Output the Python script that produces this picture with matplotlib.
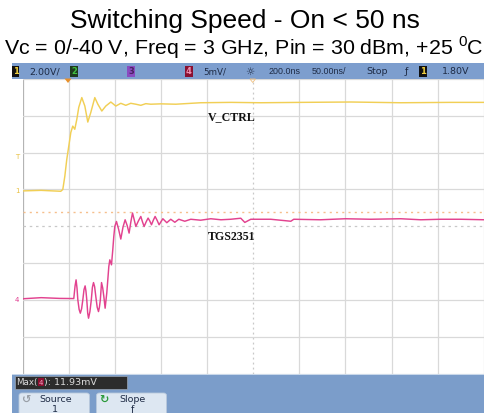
import matplotlib
matplotlib.use('Agg')
import matplotlib.pyplot as plt
from matplotlib.patches import Rectangle, FancyBboxPatch, Polygon

plt.rcParams['mathtext.fontset'] = 'custom'
plt.rcParams['mathtext.rm'] = 'Liberation Sans'

W, H = 485, 414

# Scope settings
t_grid = [-50, 0, 50, 100, 150, 200, 250, 300, 350, 400, 450]   # ns, 50 ns/div
ch1_scale, ch1_offset = 2.0, 1.0     # V/div, ground position in divisions
ch4_scale, ch4_offset = 5.0, -2.0    # mV/div

# Channel 1 (V_CTRL) in ns / V
ch1_t = [-50, -30, -8.7, -6.5, -4.3, -2.2, 0, 2.2, 4.3, 6.5, 8.7, 10.8, 14.1, 17.4,
         20.6, 23.9, 28.2, 31.5, 35.8, 40.1, 45.6, 51.0, 56.4, 61.8, 67.2, 72.7,
         78.1, 83.5, 88.9, 99.8, 116, 143, 176, 208, 252, 306, 360, 414, 451]
ch1_v = [-0.08, -0.05, -0.1, 0.0, 0.72, 1.63, 2.36, 3.10, 3.44, 3.27, 3.81, 4.46, 4.99, 4.53,
         3.66, 4.19, 4.99, 4.63, 4.26, 4.53, 4.75, 4.53, 4.68, 4.57, 4.68, 4.63,
         4.57, 4.66, 4.63, 4.65, 4.63, 4.71, 4.73, 4.71, 4.73, 4.75, 4.71, 4.73, 4.73]

# Channel 4 (TGS2351 detected RF) in ns / mV
ch4_t = [-50, -30, -10, 5.4, 6.8, 7.9, 8.9, 9.8, 11.2, 12.5, 13.9, 15.2, 16.5, 17.7, 18.6,
         19.5, 20.5, 21.4, 22.9, 24.4, 25.6, 26.8, 28.0, 29.3, 30.8, 32.2, 33.2, 34.2, 35.5,
         36.8, 38.0, 39.4, 41.2, 42.3, 43.4, 44.5, 46.3, 47.7, 48.8, 49.9,
         51.7, 54.0, 56.4, 58.8, 61.1, 63.3, 65.4, 67.3, 69.1, 70.9, 72.7, 75.4, 78.1, 79.9,
         81.7, 83.9, 86.0, 87.9, 89.7, 91.6, 93.6, 95.8, 97.9,
         102, 106.3, 110.6, 115, 119.3, 125.8, 132.3, 143, 154, 165, 175.7, 186.5,
         190.9, 197.4, 219, 240.8, 244, 273, 300, 327.6, 360, 381.8, 403.5, 425, 451]
ch4_mv = [0.15, 0.3, 0.2, 0.18, 1.9, 2.72, 1.6, 0.0, -1.3, -1.81, -1.2, 0.0, 1.4, 1.90, 1.2,
          0.0, -1.8, -2.49, -1.6, 0.0, 1.7, 2.35, 1.8, 0.45,
          -1.0, -1.59, -1.0, 0.0, 2.35, 1.6, 0.45, -1.13, 0.95, 2.72, 4.53, 5.44, 4.76, 6.80,
          8.61, 9.97,
          10.65, 9.6, 8.26, 9.9, 10.88, 10.1, 9.07, 10.6, 11.80, 10.9, 9.97, 10.7, 11.33, 10.6,
          9.97, 10.6, 11.11, 10.7, 10.20, 10.8, 11.33, 10.8, 10.20,
          11.02, 10.48, 10.95, 10.54, 10.95, 10.68, 10.95, 10.82, 11.02, 10.88, 10.95, 11.09,
          10.52, 10.95, 10.95, 10.68, 10.95, 10.88, 11.02, 10.95, 11.02, 10.88, 10.95, 10.95, 10.88]
ch4_max = 11.93


def fx(x):
    return x / W


def fy(y):
    return 1 - y / H


fig = plt.figure(figsize=(W / 100, H / 100), dpi=100)

# Titles
fig.text(fx(245), fy(21), 'Switching Speed - On < 50 ns', ha='center', va='center',
         fontsize=19, family='Liberation Sans')
fig.text(fx(244), fy(48), r'Vc = 0/-40 V, Freq = 3 GHz, Pin = 30 dBm, +25 $^{\rm 0}$C',
         ha='center', va='center', fontsize=15.4, family='Liberation Sans')

# Scope frame: top bar and bottom panel
blue = '#7d9ece'
fig.add_artist(Rectangle((fx(12), fy(79.5)), fx(473), 15.5 / H, fc=blue, ec='none',
                         transform=fig.transFigure))
fig.add_artist(Rectangle((fx(12), 0), fx(473), 39.5 / H, fc='#7b9dca', ec='none',
                         transform=fig.transFigure))
fig.add_artist(Rectangle((fx(12), fy(375.5)), fx(473), 1 / H, fc='#c9d8ea', ec='none',
                         transform=fig.transFigure))

# Grid area
ax = fig.add_axes([fx(22.7), fy(374.5), fx(461), 294.5 / H])
ax.set_xlim(t_grid[0], t_grid[-1])
ax.set_ylim(-4, 4)
ax.axis('off')
grid_c = '#d9d9d9'
for t in t_grid:
    if t == 200:
        ax.axvline(t, color='#c8c8c8', lw=0.9, ls=(0, (1.5, 2.5)))
    else:
        ax.axvline(t, color='#b4b4b4' if t == t_grid[0] else grid_c, lw=0.9)
for d in range(-4, 5):
    if d == 0:
        ax.axhline(d, color='#c8c8c8', lw=0.9, ls=(0, (2, 3)))
    else:
        ax.axhline(d, color=grid_c, lw=0.9)

# Max cursor
ax.axhline(ch4_max / ch4_scale + ch4_offset, color='#f6bf8c', lw=1.0, ls=(0, (1.5, 3)))

# Traces
ax.plot(ch1_t, [v / ch1_scale + ch1_offset for v in ch1_v], color='#f1cf55', lw=1.05,
        solid_joinstyle='round')
ax.plot(ch4_t, [v / ch4_scale + ch4_offset for v in ch4_mv], color='#e2428f', lw=1.05,
        solid_joinstyle='round')

# Trace labels
fig.text(fx(208), fy(117), 'V_CTRL', fontsize=8.6, family='Liberation Serif',
         weight='bold', va='center', color='#111111')
fig.text(fx(208), fy(237), 'TGS2351', fontsize=8.6, family='Liberation Serif',
         weight='bold', va='center', color='#111111')

# Trigger and delay markers
fig.add_artist(Polygon([(fx(64.5), fy(79.5)), (fx(71.5), fy(79.5)), (fx(68), fy(84))],
                       closed=True, fc='#e8902a', ec='none', transform=fig.transFigure))
fig.add_artist(Polygon([(fx(250), fy(80)), (fx(255.5), fy(80)), (fx(252.7), fy(83.5))],
                       closed=True, fc='none', ec='#f0c080', lw=0.6, transform=fig.transFigure))

# Left markers
fig.text(fx(17), fy(157), 'T', fontsize=5, color='#e8c040', ha='center', va='center')
fig.text(fx(17), fy(191), '1', fontsize=5, color='#e8c040', ha='center', va='center')
fig.text(fx(17), fy(300), '4', fontsize=5, color='#e03d90', ha='center', va='center')

# Top bar text
bar_y = fy(72)
tc = '#1e2b45'
fs = 6.8


def chbox(x, s, fg, bg):
    fig.text(fx(x), bar_y, s, fontsize=6, color=fg, ha='center', va='center',
             family='DejaVu Sans', weight='bold',
             bbox=dict(boxstyle='square,pad=0.12', fc=bg, ec='none'))


chbox(15.5, '1', '#f0d040', '#111111')
fig.text(fx(29), bar_y, '2.00V/', fontsize=fs, color=tc, va='center')
chbox(74, '2', '#40c040', '#1d3a1d')
chbox(131, '3', '#4a2060', '#8a4cc0')
chbox(188.7, '4', '#f090b0', '#8a1030')
fig.text(fx(203), bar_y, '5mV/', fontsize=fs - 0.5, color=tc, va='center')
fig.text(fx(250), bar_y, '\u263c', fontsize=7.5, color=tc, va='center', ha='center')
fig.text(fx(269), bar_y, '200.0ns', fontsize=6.4, color=tc, va='center',
         family='Liberation Sans')
fig.text(fx(311.5), bar_y, '50.00ns/', fontsize=6.4, color=tc, va='center',
         family='Liberation Sans')
fig.text(fx(366.5), bar_y, 'Stop', fontsize=fs, color=tc, va='center')
fig.text(fx(406.5), bar_y, '\u0192', fontsize=fs, color=tc, va='center', ha='center')
chbox(423, '1', '#f0d040', '#111111')
fig.text(fx(441.5), bar_y, '1.80V', fontsize=fs, color=tc, va='center')

# Measurement readout
fig.add_artist(Rectangle((fx(15), fy(389.5)), fx(112), 12.5 / H, fc='#2c2c2c', ec='#9aa6b4',
                         lw=0.5, transform=fig.transFigure))
fig.text(fx(16.5), fy(383), 'Max(', fontsize=6.3, color='#dcdcdc', va='center')
fig.text(fx(40.8), fy(383), '4', fontsize=5, color='#f0a0c0', va='center', ha='center',
         bbox=dict(boxstyle='square,pad=0.08', fc='#8a1030', ec='none'))
fig.text(fx(44), fy(383), f'): {ch4_max:.2f}mV', fontsize=6.8, color='#dcdcdc', va='center')

# Soft-key buttons
for x0, x1, top, bottom, icon, icolor in [(19, 89.5, 'Source', '1', '\u21ba', '#9aa0a8'),
                                           (96.5, 166.5, 'Slope', '\u0192', '\u21bb', '#2a9a3a')]:
    fig.add_artist(FancyBboxPatch((fx(x0), fy(418)), fx(x1 - x0), 24 / H,
                                  boxstyle='round,pad=0,rounding_size=0.006',
                                  fc='#dde7f2', ec='#b8c8dc', lw=0.6,
                                  transform=fig.transFigure))
    cx = (x0 + x1) / 2 + 1
    fig.text(fx(cx), fy(399.5), top, fontsize=6.8, color='#1e2b45', ha='center', va='center')
    fig.text(fx(cx), fy(409.5), bottom, fontsize=6.8, color='#1e2b45', ha='center', va='center')
    fig.text(fx(x0 + 7), fy(399.5), icon, fontsize=8, color=icolor, ha='center', va='center',
             weight='bold')

fig.savefig('out.png', dpi=100)
